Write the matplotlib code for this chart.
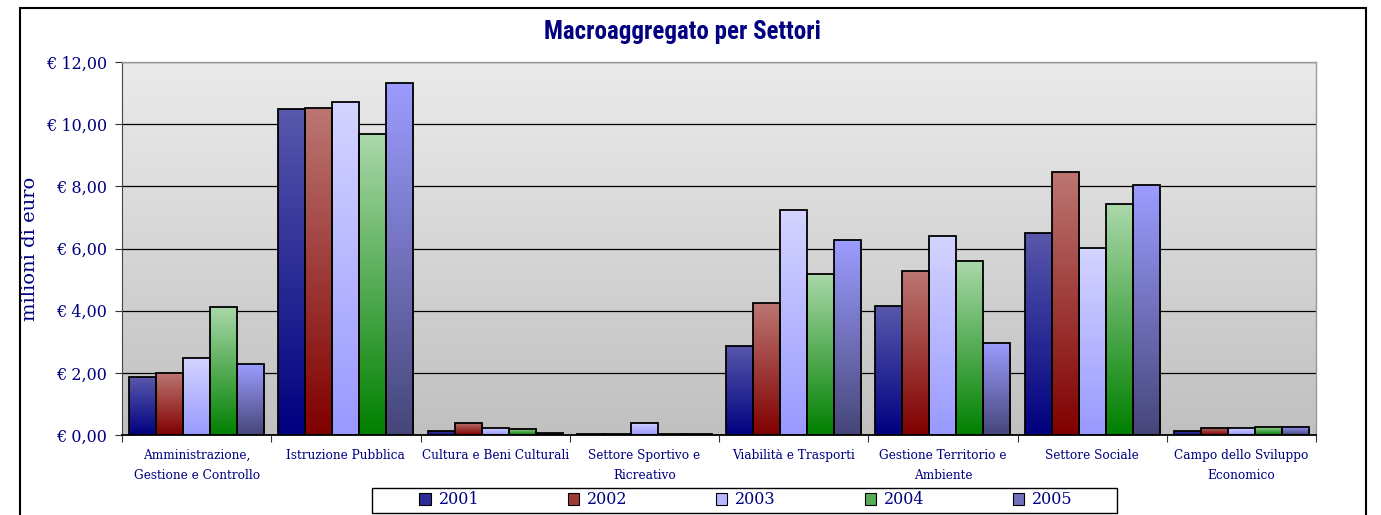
import numpy as np
import matplotlib
matplotlib.use("Agg")
import matplotlib.pyplot as plt
from matplotlib.patches import Rectangle, Patch
from matplotlib.colors import to_rgb

categories = ["Amministrazione,\nGestione e Controllo", "Istruzione Pubblica",
              "Cultura e Beni Culturali", "Settore Sportivo e\nRicreativo",
              "Viabilità e Trasporti", "Gestione Territorio e\nAmbiente",
              "Settore Sociale", "Campo dello Sviluppo\nEconomico"]
years = ["2001", "2002", "2003", "2004", "2005"]
v2001 = [1.86, 10.48, 0.13, 0.03, 2.86, 4.15, 6.50, 0.13]
v2002 = [1.99, 10.51, 0.39, 0.03, 4.24, 5.27, 8.46, 0.23]
v2003 = [2.48, 10.71, 0.24, 0.39, 7.23, 6.40, 6.01, 0.23]
v2004 = [4.12, 9.68, 0.20, 0.03, 5.18, 5.60, 7.43, 0.27]
v2005 = [2.28, 11.32, 0.05, 0.02, 6.27, 2.96, 8.04, 0.27]
series = [v2001, v2002, v2003, v2004, v2005]
yticks = [0, 2, 4, 6, 8, 10, 12]
ytick_labels = ["€ 0,00", "€ 2,00", "€ 4,00", "€ 6,00", "€ 8,00", "€ 10,00", "€ 12,00"]

tops = ["#5858ac", "#bc7672", "#d4d4ff", "#aad8aa", "#9c9cff"]
bottoms = ["#000080", "#800000", "#9999ff", "#008000", "#46467a"]
navy = "#000080"

W, H = 1381, 515
fig = plt.figure(figsize=(W / 100, H / 100), dpi=100)
ax = fig.add_axes([122 / W, 1 - 435 / H, (1316 - 122) / W, (435 - 62) / H])

# background gradient
bg = np.linspace(0, 1, 256)[:, None]
c_top = np.array(to_rgb("#ebebeb"))
c_bot = np.array(to_rgb("#c0c0c0"))
bgimg = c_top[None, None, :] * (1 - bg[:, :, None]) + c_bot[None, None, :] * bg[:, :, None]
ax.imshow(bgimg, extent=[0, 1, 0, 1], transform=ax.transAxes, aspect="auto", zorder=0)

n = len(categories)
x = np.arange(n)
bw = 0.181
ax.set_xlim(-0.5, n - 0.5)
ax.set_ylim(0, 12)

grad = np.linspace(0, 1, 128)[:, None]
for i, vals in enumerate(series):
    ct = np.array(to_rgb(tops[i]))
    cb = np.array(to_rgb(bottoms[i]))
    img = ct[None, None, :] * (1 - grad[:, :, None]) + cb[None, None, :] * grad[:, :, None]
    offs = (i - 2) * bw
    bars = ax.bar(x + offs, vals, width=bw, color="none", edgecolor="black", linewidth=1.3, zorder=3)
    for b in bars:
        bx, by = b.get_x(), b.get_y()
        bwid, bh = b.get_width(), b.get_height()
        im = ax.imshow(img, extent=[bx, bx + bwid, by, by + bh], aspect="auto", zorder=2.5)
        im.set_clip_path(b)

ax.set_xlim(-0.5, n - 0.5)
ax.set_ylim(0, 12)

ax.set_yticks(yticks)
ax.set_yticklabels(ytick_labels, family="DejaVu Serif", fontsize=11.5, color=navy)
ax.yaxis.grid(True, color="black", linewidth=0.9, zorder=1)
ax.set_axisbelow(True)

ax.set_xticks(np.arange(-0.5, n, 1.0))
ax.set_xticklabels([])
ax.set_xticks(x, minor=True)
ax.set_xticklabels(categories, minor=True, family="DejaVu Serif", fontsize=8.7, color=navy, linespacing=1.7)
ax.tick_params(axis="x", which="minor", length=0, pad=10)
ax.tick_params(axis="x", which="major", length=5, color="#333333", direction="out")
ax.tick_params(axis="y", length=5, color="#333333", direction="out", pad=6)

for s in ["top", "right"]:
    ax.spines[s].set_color("#999999")
    ax.spines[s].set_linewidth(1)
ax.spines["left"].set_color("#444444")
ax.spines["bottom"].set_color("black")
ax.spines["bottom"].set_linewidth(1.3)

ax.set_ylabel("milioni di euro", family="DejaVu Serif", fontsize=14, color=navy)
ax.yaxis.set_label_coords((39 - 122) / (1316 - 122), 0.5)

fig.text(0.494, 1 - 32 / H, "Macroaggregato per Settori", ha="center", va="center",
         family=["Roboto Condensed", "Liberation Sans Narrow", "Liberation Sans"],
         fontweight="bold", fontsize=18, color=navy)

handles = [Patch(facecolor=(np.array(to_rgb(tops[i])) + np.array(to_rgb(bottoms[i]))) / 2,
                 edgecolor="black", linewidth=0.8) for i in range(5)]
leg = fig.legend(handles, years, loc="center", bbox_to_anchor=(746 / W, 1 - 500 / H),
                 ncol=5, frameon=False, handlelength=0.7,
                 handleheight=0.7, columnspacing=5.55, handletextpad=0.5, borderpad=0.3,
                 prop={"family": "DejaVu Serif", "size": 11.5})
for t in leg.get_texts():
    t.set_color(navy)

# legend frame
fig.patches.append(Rectangle((372 / W, 1 - 513 / H), (1117 - 372) / W, 25 / H,
                             transform=fig.transFigure, fill=False, edgecolor="black",
                             linewidth=1.0))

fig.patches.append(Rectangle((20 / W, -0.05), (1366 - 20) / W, 1.05 - 8 / H,
                             transform=fig.transFigure, fill=False, edgecolor="black",
                             linewidth=1.5, clip_on=False))

fig.savefig("out.png", dpi=100)
